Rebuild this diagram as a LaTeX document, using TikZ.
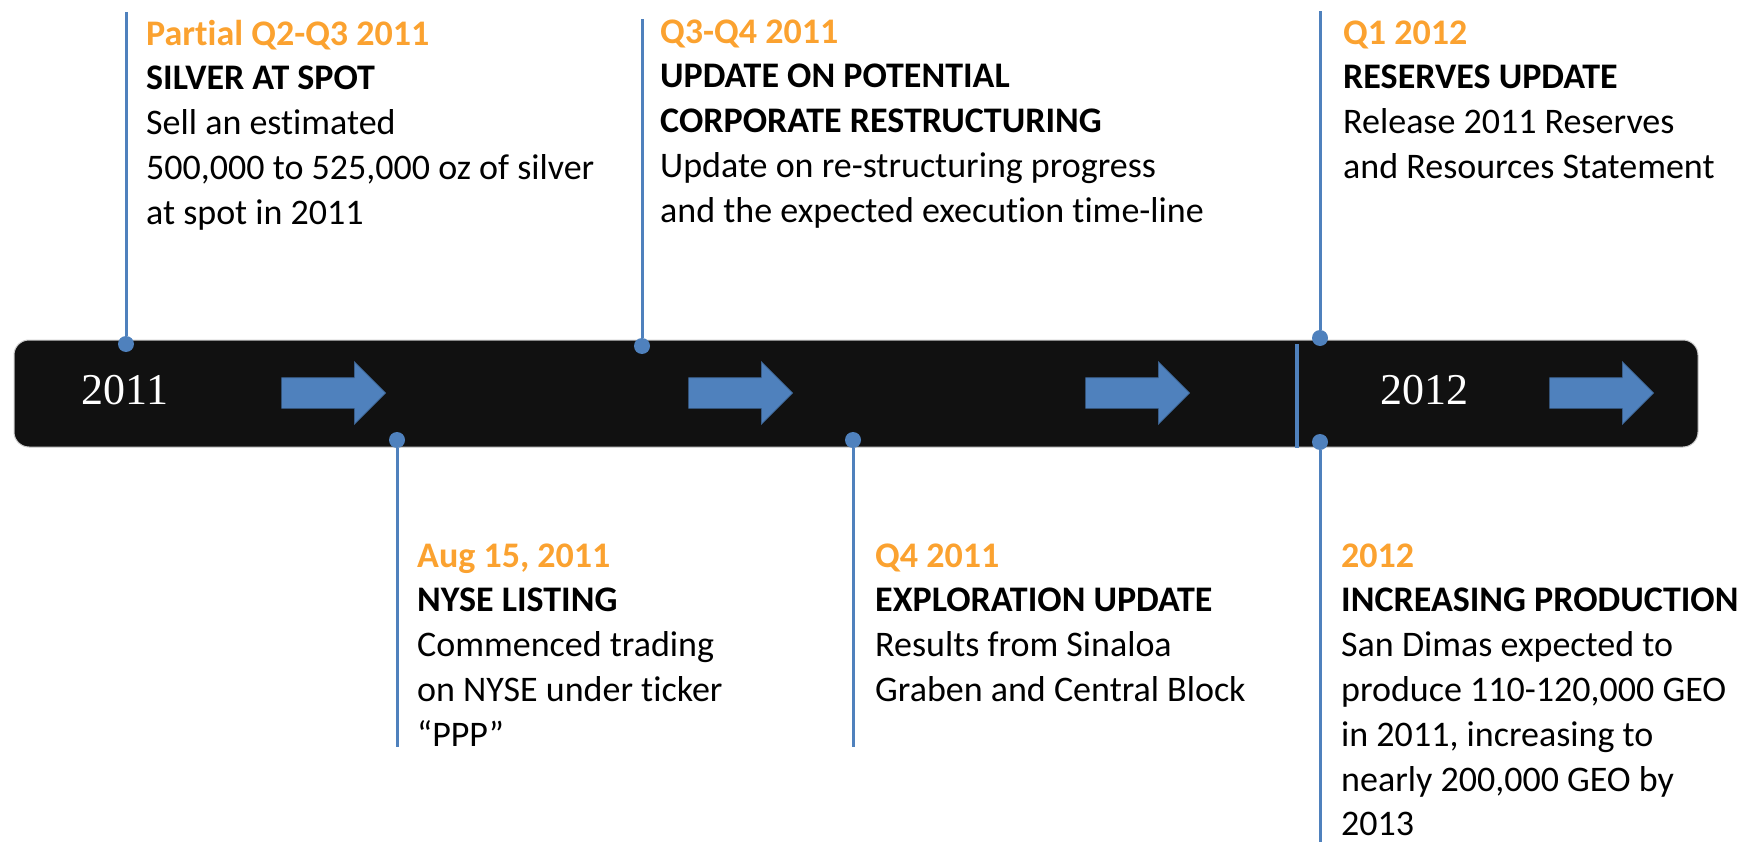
\documentclass[tikz,border=0pt]{standalone}
\usepackage{fontspec}
\setmainfont[RawFeature={-liga;-clig;-dlig;-calt;-rlig;-ccmp;-locl}]{Carlito}
\newfontfamily\yearfont{Liberation Serif}
\usetikzlibrary{shapes.arrows}
\usetikzlibrary{positioning}
\definecolor{event-blue}{HTML}{4F81BD}
\definecolor{event-orange}{HTML}{FBA230}
\definecolor{bar-black}{HTML}{111111}
\colorlet{marker}{event-blue}
\colorlet{date}{event-orange}
\tikzset{
  year-bar/.style={fill=bar-black, draw=black!20, line width=1pt, rounded corners=15pt, inner sep=0pt},
  year-label/.style={text=white, font=\yearfont\fontsize{44}{44}\selectfont, inner sep=0pt},
  year-arrow/.style={single arrow, fill=marker, draw=marker!75!black, line width=0.6pt,
    minimum height=104pt, inner xsep=0pt, inner ysep=15pt,
    single arrow head extend=16pt, single arrow tip angle=90},
  event-dot/.style={circle, fill=marker, inner sep=0pt, minimum size=16pt},
  event-line/.style={draw=marker, line width=3pt},
  event-text/.style={anchor=north west, inner sep=0pt, align=left, font=\fontsize{36}{44.8}\selectfont},
}
\newcommand{\eventdate}[1]{\strut\textcolor{date}{\textbf{#1}}}
\newcommand{\eventtitle}[1]{\textbf{#1}}

\begin{document}
\begin{tikzpicture}[x=1pt, y=-1pt]
\useasboundingbox (0,0) rectangle (1756,842);
% time bar
\node[year-bar, minimum width=1684pt, minimum height=107pt] (bar) at (856,393.5) {};
\node[year-label] (y2011) at (125,390) {2011};
\node[year-label] (y2012) at (1424,390) {2012};
\foreach \ax [count=\i] in {326,733,1130,1594}
  \node[year-arrow] (arrow\i) at (\ax,393) {};
\coordinate (split-top) at (1297,344);
\coordinate (split-bot) at (1297,448);
\draw[event-line, line width=4pt] (split-top) -- (split-bot);
% markers above the bar
\node[event-dot] (dot-silver) at (126,344) {};
\node[event-dot] (dot-restruct) at (642,346) {};
\node[event-dot] (dot-reserves) at (1320,338) {};
\coordinate (top-silver) at (126,12);
\coordinate (top-restruct) at (642,19);
\coordinate (top-reserves) at (1320,11);
\draw[event-line] (dot-silver) -- (top-silver);
\draw[event-line] (dot-restruct) -- (top-restruct);
\draw[event-line] (dot-reserves) -- (top-reserves);
% markers below the bar
\node[event-dot] (dot-nyse) at (397,440) {};
\node[event-dot] (dot-explore) at (853,440) {};
\node[event-dot] (dot-prod) at (1320,442) {};
\coordinate (end-nyse) at (397,747);
\coordinate (end-explore) at (853,747);
\coordinate (end-prod) at (1320,842);
\draw[event-line] (dot-nyse) -- (end-nyse);
\draw[event-line] (dot-explore) -- (end-explore);
\draw[event-line] (dot-prod) -- (end-prod);
% event texts
\node[event-text] (txt-silver) at (146,13.6) {\eventdate{Partial Q2-Q3 2011}\\
  \eventtitle{SILVER AT SPOT}\\ Sell an estimated\\ 500,000 to 525,000 oz of silver\\ at spot in 2011};
\node[event-text] (txt-restruct) at (660,11.6) {\eventdate{Q3-Q4 2011}\\
  \eventtitle{UPDATE ON POTENTIAL}\\ \eventtitle{CORPORATE RESTRUCTURING}\\
  Update on re-structuring progress\\ and the expected execution time-line};
\node[event-text] (txt-reserves) at (1343,12.6) {\eventdate{Q1 2012}\\
  \eventtitle{RESERVES UPDATE}\\ Release 2011 Reserves\\ and Resources Statement};
\node[event-text] (txt-nyse) at (417,535.6) {\eventdate{Aug 15, 2011}\\
  \eventtitle{NYSE LISTING}\\ Commenced trading\\ on NYSE under ticker\\ “PPP”};
\node[event-text] (txt-explore) at (875,535.6) {\eventdate{Q4 2011}\\
  \eventtitle{EXPLORATION UPDATE}\\ Results from Sinaloa\\ Graben and Central Block};
\node[event-text] (txt-prod) at (1341,535.6) {\eventdate{2012}\\
  \eventtitle{INCREASING PRODUCTION}\\ San Dimas expected to\\ produce 110-120,000 GEO\\
  in 2011, increasing to\\ nearly 200,000 GEO by\\ 2013};
\end{tikzpicture}
\end{document}
